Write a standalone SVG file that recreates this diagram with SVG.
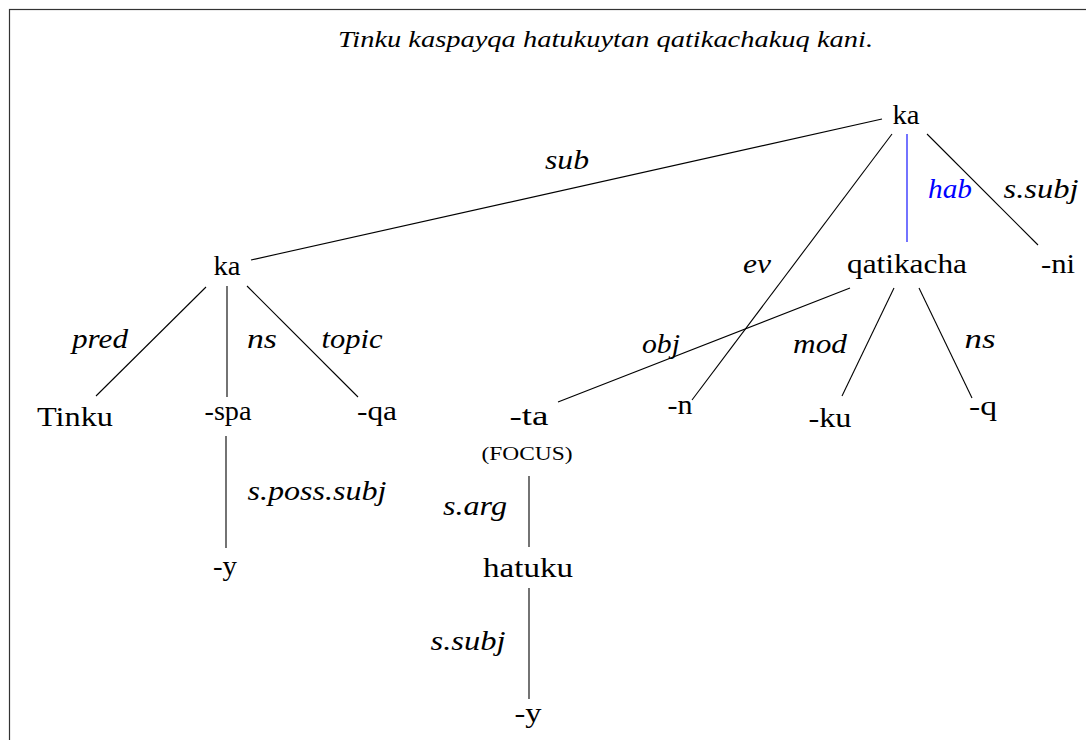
<svg xmlns="http://www.w3.org/2000/svg" width="1086" height="740" viewBox="0 0 1086 740">
<style>
.n{font-family:"Liberation Serif","Times New Roman",serif;font-size:27px;fill:#000;text-anchor:middle}
.l{font-family:"Liberation Serif","Times New Roman",serif;font-size:27px;font-style:italic;fill:#000;text-anchor:middle}
.t{font-family:"Liberation Serif","Times New Roman",serif;font-size:24px;font-style:italic;fill:#000;text-anchor:middle}
.sc{font-family:"Liberation Serif","Times New Roman",serif;font-size:19px;fill:#000;text-anchor:middle}
.e{stroke:#000;stroke-width:1.1;fill:none}
.b{stroke:#0000ff;stroke-width:1.1;fill:none}
</style>
<rect x="0" y="0" width="1086" height="740" fill="#fff"/>
<rect x="9.5" y="9.5" width="1100" height="800" fill="none" stroke="#333" stroke-width="1.2"/>
<text class="t" x="605.5" y="47" textLength="535" lengthAdjust="spacingAndGlyphs">Tinku kaspayqa hatukuytan qatikachakuq kani.</text>
<g id="connectors">
<line class="e" x1="882" y1="119" x2="251" y2="260"/>
<line class="e" x1="892" y1="134" x2="692" y2="400"/>
<line class="b" x1="907" y1="134" x2="907" y2="242"/>
<line class="e" x1="927" y1="134" x2="1038" y2="245"/>
<line class="e" x1="206" y1="287" x2="96" y2="396"/>
<line class="e" x1="227" y1="286" x2="227" y2="397"/>
<line class="e" x1="247" y1="286" x2="358" y2="397"/>
<line class="e" x1="850" y1="288" x2="558" y2="402"/>
<line class="e" x1="894" y1="288" x2="842" y2="396"/>
<line class="e" x1="919" y1="288" x2="972" y2="398"/>
<line class="e" x1="226" y1="436" x2="226" y2="548"/>
<line class="e" x1="529" y1="476" x2="529" y2="547"/>
<line class="e" x1="529" y1="588" x2="529" y2="699"/>
<text class="l" x="567" y="169" textLength="44" lengthAdjust="spacingAndGlyphs">sub</text>
<text class="l" x="757" y="273" textLength="28" lengthAdjust="spacingAndGlyphs">ev</text>
<text class="l" x="950" y="198" textLength="44" lengthAdjust="spacingAndGlyphs" style="fill:#0000ff">hab</text>
<text class="l" x="1041" y="198" textLength="75" lengthAdjust="spacingAndGlyphs">s.subj</text>
<text class="l" x="100" y="348" textLength="56" lengthAdjust="spacingAndGlyphs">pred</text>
<text class="l" x="262" y="348" textLength="30" lengthAdjust="spacingAndGlyphs">ns</text>
<text class="l" x="352" y="348" textLength="61" lengthAdjust="spacingAndGlyphs">topic</text>
<text class="l" x="661" y="353" textLength="38" lengthAdjust="spacingAndGlyphs">obj</text>
<text class="l" x="820" y="353" textLength="54" lengthAdjust="spacingAndGlyphs">mod</text>
<text class="l" x="980" y="348" textLength="31" lengthAdjust="spacingAndGlyphs">ns</text>
<text class="l" x="317" y="500" textLength="139" lengthAdjust="spacingAndGlyphs">s.poss.subj</text>
<text class="l" x="475" y="515" textLength="64" lengthAdjust="spacingAndGlyphs">s.arg</text>
<text class="l" x="468" y="650" textLength="75" lengthAdjust="spacingAndGlyphs">s.subj</text>
</g>
<g id="root"><text class="n" x="906" y="124" textLength="27" lengthAdjust="spacingAndGlyphs">ka</text></g>
<g id="ka2"><text class="n" x="227" y="275" textLength="27" lengthAdjust="spacingAndGlyphs">ka</text></g>
<g id="qatikacha"><text class="n" x="907" y="273" textLength="120" lengthAdjust="spacingAndGlyphs">qatikacha</text></g>
<g id="ni"><text class="n" x="1058" y="273" textLength="34" lengthAdjust="spacingAndGlyphs">-ni</text></g>
<g id="tinku"><text class="n" x="75" y="426" textLength="76" lengthAdjust="spacingAndGlyphs">Tinku</text></g>
<g id="spa"><text class="n" x="228" y="420" textLength="47" lengthAdjust="spacingAndGlyphs">-spa</text></g>
<g id="qa"><text class="n" x="377" y="420" textLength="40" lengthAdjust="spacingAndGlyphs">-qa</text></g>
<g id="ta"><text class="n" x="529" y="425" textLength="39" lengthAdjust="spacingAndGlyphs">-ta</text><text class="sc" x="527" y="460" textLength="91" lengthAdjust="spacingAndGlyphs">(FOCUS)</text></g>
<g id="n"><text class="n" x="680" y="414" textLength="25" lengthAdjust="spacingAndGlyphs">-n</text></g>
<g id="ku"><text class="n" x="830" y="427" textLength="43" lengthAdjust="spacingAndGlyphs">-ku</text></g>
<g id="q"><text class="n" x="983" y="415" textLength="28" lengthAdjust="spacingAndGlyphs">-q</text></g>
<g id="hatuku"><text class="n" x="528" y="577" textLength="90" lengthAdjust="spacingAndGlyphs">hatuku</text></g>
<g id="y1"><text class="n" x="225" y="575" textLength="24" lengthAdjust="spacingAndGlyphs">-y</text></g>
<g id="y2"><text class="n" x="528" y="722" textLength="27" lengthAdjust="spacingAndGlyphs">-y</text></g>
</svg>
